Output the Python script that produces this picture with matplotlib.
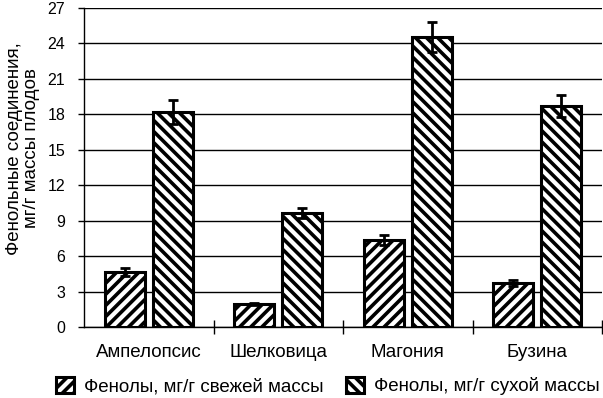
import numpy as np
import matplotlib
matplotlib.use("Agg")
import matplotlib.pyplot as plt

plt.rcParams['font.family'] = ['Liberation Sans', 'DejaVu Sans']
plt.rcParams['hatch.linewidth'] = 2.6

categories = ["Ампелопсис", "Шелковица", "Магония", "Бузина"]
fresh = [4.68, 1.92, 7.39, 3.75]
fresh_err = [0.35, 0.1, 0.42, 0.25]
dry = [18.2, 9.67, 24.57, 18.7]
dry_err = [1.0, 0.42, 1.27, 0.96]
labels = ["Фенолы, мг/г свежей массы", "Фенолы, мг/г сухой массы"]

fig = plt.figure(figsize=(6.03, 3.98), dpi=100)
ax = fig.add_axes([84 / 603, 1 - 327 / 398, 518 / 603, 319 / 398])

x = np.arange(len(categories))
w = 0.306
off = 0.185
ax.bar(x - off, fresh, w, color="white", edgecolor="black", linewidth=2.2,
       hatch="///", label=labels[0], zorder=3)
ax.bar(x + off, dry, w, color="white", edgecolor="black", linewidth=2.2,
       hatch="\\\\\\", label=labels[1], zorder=3)
ax.errorbar(x - off, fresh, yerr=fresh_err, fmt="none", ecolor="black",
            elinewidth=2, capsize=3.5, capthick=2, zorder=4)
ax.errorbar(x + off, dry, yerr=dry_err, fmt="none", ecolor="black",
            elinewidth=2, capsize=3.5, capthick=2, zorder=4)

ax.set_xlim(-0.5, len(categories) - 0.5)
ax.set_ylim(0, 27)
ax.set_yticks(np.arange(0, 28, 3))
ax.yaxis.grid(True, color="black", linewidth=1)
ax.set_axisbelow(True)

ax.set_xticks(x)
ax.set_xticklabels(categories, fontsize=13.5)
ax.tick_params(axis="x", length=0, pad=12)
ax.set_xticks(np.arange(0.5, len(categories), 1), minor=True)
ax.tick_params(axis="x", which="minor", length=10, direction="inout", width=1)
ax.tick_params(axis="y", length=4.5, width=1, labelsize=11.5, pad=9)

for s in ["top", "right"]:
    ax.spines[s].set_visible(False)
for s in ["left", "bottom"]:
    ax.spines[s].set_linewidth(1)

ax.set_ylabel("Фенольные соединения,\nмг/г массы плодов", fontsize=13.5,
              linespacing=1.0)
ax.yaxis.set_label_coords(-0.084, 0.56)

ax.legend(loc="center", bbox_to_anchor=(0.47, -0.185), ncol=2, frameon=False,
          fontsize=13.5, handlelength=1.0, handleheight=1.0, columnspacing=1.2,
          handletextpad=0.5)

fig.savefig("out.png", dpi=100)
